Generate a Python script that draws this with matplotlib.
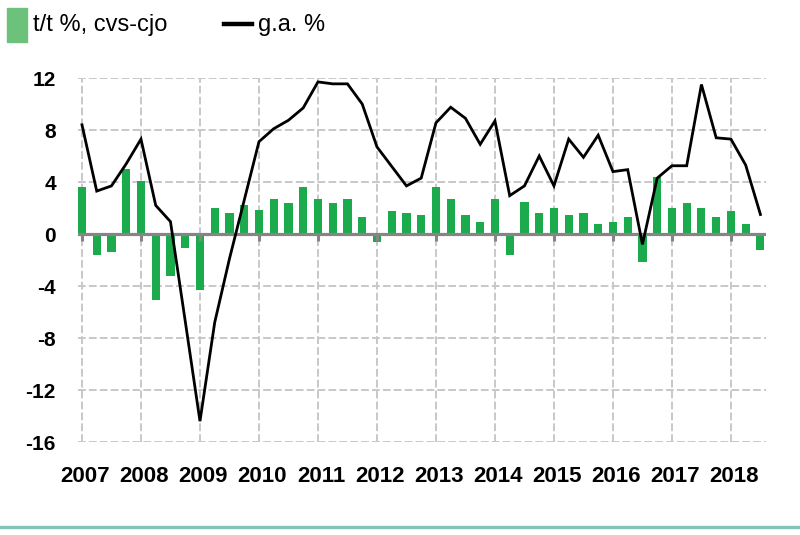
import matplotlib
matplotlib.use("Agg")
import matplotlib.pyplot as plt
from matplotlib.lines import Line2D
from matplotlib.patches import Rectangle
import numpy as np

years = [str(y) for y in range(2007, 2019)]
quarters = [f"{y}Q{q}" for y in range(2007, 2019) for q in range(1, 5)][:47]

qoq = [3.6, -1.6, -1.4, 5.0,
       4.1, -5.1, -3.2, -1.05,
       -4.3, 2.0, 1.6, 2.2,
       1.85, 2.7, 2.35, 3.6,
       2.7, 2.35, 2.7, 1.3,
       -0.6, 1.8, 1.6, 1.45,
       3.6, 2.7, 1.45, 0.9,
       2.7, -1.6, 2.5, 1.6,
       2.0, 1.45, 1.6, 0.75,
       0.9, 1.3, -2.15, 4.35,
       2.0, 2.35, 2.0, 1.3,
       1.8, 0.75, -1.25]

yoy = [8.4, 3.3, 3.7, 5.4,
       7.3, 2.2, 0.95, -6.7,
       -14.4, -6.8, -1.9, 2.6,
       7.1, 8.1, 8.75, 9.7,
       11.7, 11.55, 11.55, 10.0,
       6.7, 5.2, 3.7, 4.3,
       8.55, 9.75, 8.9, 6.9,
       8.7, 2.95, 3.7, 6.0,
       3.7, 7.3, 5.9, 7.6,
       4.8, 4.95, -0.8, 4.3,
       5.25, 5.25, 11.5, 7.4,
       7.3, 5.3, 1.5]

yticks = [12, 8, 4, 0, -4, -8, -12, -16]

bar_color = "#1cab4c"
legend_green = "#6cc27a"
grid_color = "#c8c8c8"

fig = plt.figure(figsize=(8, 5.35), dpi=100)
L, R, T, B = 78, 765.6, 78, 442
ax = fig.add_axes([L / 800, 1 - B / 535, (R - L) / 800, (B - T) / 535])

x = np.arange(len(quarters))
ax.set_xlim(-0.27, 46.35)
ax.set_ylim(-16, 12)

# grid
for yv in yticks:
    ax.axhline(yv, color=grid_color, lw=1.4, dashes=(4, 1.6), zorder=0)
for k in range(len(years)):
    ax.axvline(4 * k, color=grid_color, lw=1.4, dashes=(4, 1.6), zorder=0)

ax.bar(x, qoq, width=0.55, color=bar_color, zorder=2)
ax.axhline(0, color="#858585", lw=2.3, zorder=3)
# small ticks below zero line
for k in range(len(years)):
    ax.plot([4 * k, 4 * k], [0, -0.5], color="#858585", lw=2.2, zorder=3,
            solid_capstyle="butt")
ax.plot(x, yoy, color="black", lw=2.0, zorder=4, solid_joinstyle="miter")

for s in ax.spines.values():
    s.set_visible(False)
ax.tick_params(length=0)
ax.set_yticks(yticks)
ax.set_yticklabels([str(v) for v in yticks], fontsize=15, fontweight="bold",
                   family=["Liberation Sans", "DejaVu Sans"])
ax.tick_params(axis="y", pad=16)
ax.set_xticks([4 * k + 0.2 for k in range(len(years))])
ax.set_xticklabels(years, fontsize=16, fontweight="bold",
                   family=["Liberation Sans", "DejaVu Sans"])
ax.tick_params(axis="x", pad=17)

# legend
fig.patches.append(Rectangle((7 / 800, 1 - 42 / 535), 20 / 800, 34 / 535,
                             transform=fig.transFigure, color=legend_green))
fig.text(33 / 800, 1 - 25 / 535, "t/t %, cvs-cjo", fontsize=17, va="center",
         family=["Liberation Sans", "DejaVu Sans"])
fig.lines.append(Line2D([224 / 800, 252 / 800], [1 - 24 / 535, 1 - 24 / 535],
                        transform=fig.transFigure, color="black", lw=3.2))
fig.text(258 / 800, 1 - 25 / 535, "g.a. %", fontsize=17, va="center",
         family=["Liberation Sans", "DejaVu Sans"])

# bottom rule
fig.lines.append(Line2D([0, 1], [1 - 527 / 535, 1 - 527 / 535],
                        transform=fig.transFigure, color="#80c6b6", lw=2.4))

fig.savefig("out.png", dpi=100)
